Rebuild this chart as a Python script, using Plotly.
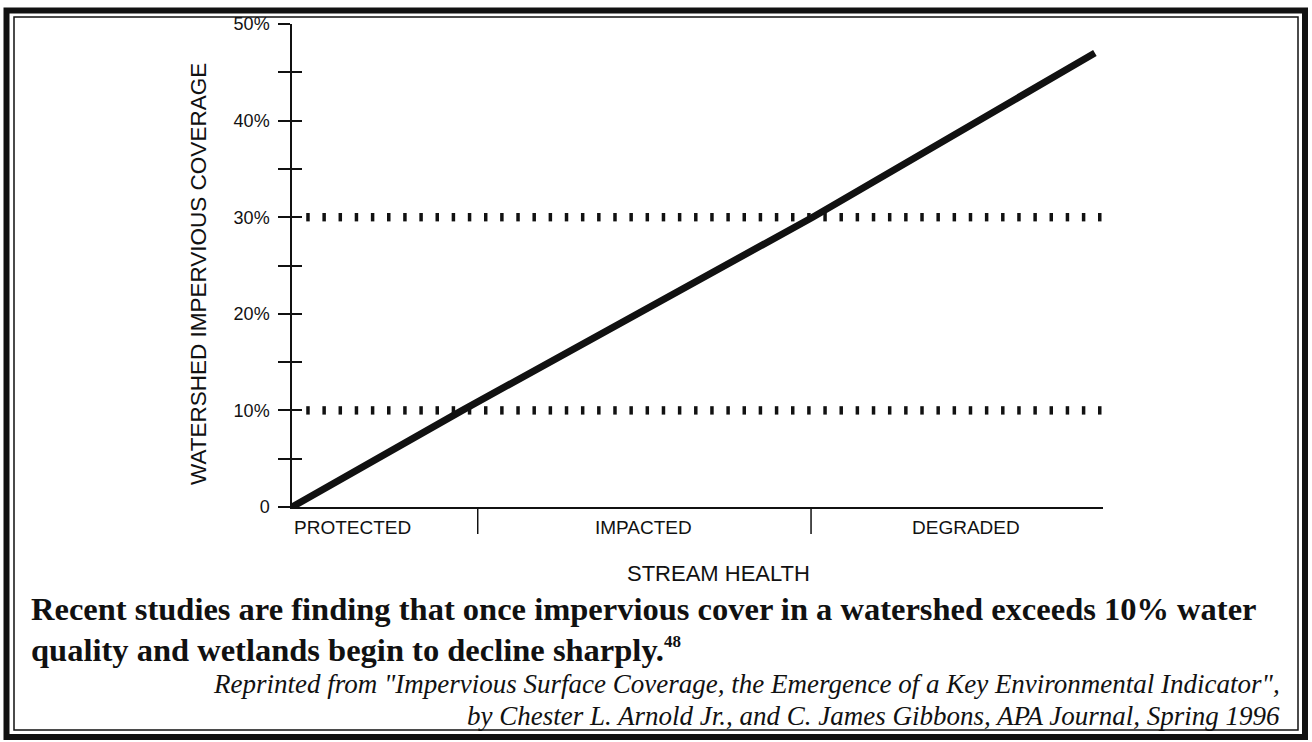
import numpy as np
import plotly.graph_objects as go

# ---------------- data ----------------
stream_health_x = [0, 21.0, 64.2, 99.0]          # position along the stream-health scale
impervious_pct = [0, 10, 30, 47]                 # watershed impervious coverage (%)
thresholds = [10, 30]                            # dotted threshold levels (%)
categories = ["PROTECTED", "IMPACTED", "DEGRADED"]
category_bounds = [22.9, 64.0]                   # divider positions between categories
y_tick_vals = [0, 10, 20, 30, 40, 50]
y_tick_text = ["0", "10%", "20%", "30%", "40%", "50%"]
y_all_ticks = [0, 5, 10, 15, 20, 25, 30, 35, 40, 45, 50]

# ---------------- layout helpers ----------------
W, H = 1312, 742
L, R, T, B = 292, 209, 24, 235
PW, PH = W - L - R, H - T - B


def px(xp):
    return (xp - L) / PW


def py(yp):
    return (H - B - yp) / PH


SANS = "Liberation Sans, Arial, sans-serif"
SERIF = "Liberation Serif, Times New Roman, serif"
INK = "#111111"

fig = go.Figure()

# main relationship line
fig.add_trace(go.Scatter(
    x=stream_health_x, y=impervious_pct, mode="lines",
    line=dict(color=INK, width=7), hoverinfo="skip", showlegend=False,
))

# dotted threshold rows (drawn as short vertical ticks)
dot_x = np.linspace(1.97, 99.6, 50)
for lvl in thresholds:
    fig.add_trace(go.Scatter(
        x=dot_x, y=[lvl] * len(dot_x), mode="markers", yaxis="y2",
        marker=dict(symbol="line-ns", size=6, line=dict(color=INK, width=3.5)),
        hoverinfo="skip", showlegend=False,
    ))

fig.update_layout(
    width=W, height=H,
    margin=dict(l=L, r=R, t=T, b=B, pad=0),
    paper_bgcolor="white", plot_bgcolor="white",
    xaxis=dict(range=[0, 100], showgrid=False, zeroline=False, showticklabels=False,
               ticks="", showline=True, linecolor=INK, linewidth=2, fixedrange=True),
    yaxis=dict(range=[0, 50], showgrid=False, zeroline=False, tickmode="array",
               tickvals=y_tick_vals, ticktext=y_tick_text, ticks="outside", ticklen=12,
               tickwidth=1.5, tickcolor=INK, showline=True, linecolor=INK, linewidth=1.5,
               tickfont=dict(family=SANS, size=18, color=INK), ticklabelstandoff=5,
               minor=dict(tickmode="array", tickvals=y_all_ticks, ticks="outside",
                          ticklen=12, tickwidth=1.5, tickcolor=INK, showgrid=False)),
    yaxis2=dict(range=[0, 50], overlaying="y", side="left", anchor="x", showgrid=False,
                zeroline=False, tickmode="array", tickvals=y_all_ticks, ticks="inside",
                ticklen=10, tickwidth=1.5, tickcolor=INK, showticklabels=False,
                showline=False),
    showlegend=False,
)

shapes = []
# category dividers below the baseline
for b in category_bounds:
    shapes.append(dict(type="line", xref="x", yref="paper", x0=b, x1=b,
                       y0=0, y1=py(534), line=dict(color=INK, width=1.5)))
# double frame
shapes.append(dict(type="rect", xref="paper", yref="paper",
                   x0=px(6.5), x1=px(1305), y0=py(10.5), y1=py(737),
                   line=dict(color=INK, width=6)))
shapes.append(dict(type="rect", xref="paper", yref="paper",
                   x0=px(14), x1=px(1298), y0=py(17), y1=py(730),
                   line=dict(color=INK, width=1.5)))
fig.update_layout(shapes=shapes)

annotations = []
cat_label_x = [7.4, 43.3, 83.1]
for name, cx in zip(categories, cat_label_x):
    annotations.append(dict(text=name, x=cx, y=py(527), xref="x", yref="paper",
                            showarrow=False, xanchor="center", yanchor="middle",
                            font=dict(family=SANS, size=19, color=INK)))
annotations.append(dict(text="STREAM HEALTH", x=px(718), y=py(573), xref="paper",
                        yref="paper", showarrow=False, xanchor="center", yanchor="middle",
                        font=dict(family=SANS, size=22, color=INK)))
annotations.append(dict(text="WATERSHED IMPERVIOUS COVERAGE", x=px(198), y=py(274),
                        xref="paper", yref="paper", showarrow=False, textangle=-90,
                        xanchor="center", yanchor="middle",
                        font=dict(family=SANS, size=22.5, color=INK)))
annotations.append(dict(
    text="<b>Recent studies are finding that once impervious cover in a watershed exceeds 10% water</b>",
    x=px(29), y=py(609), xref="paper", yref="paper", showarrow=False,
    xanchor="left", yanchor="middle", font=dict(family=SERIF, size=32.5, color=INK)))
annotations.append(dict(
    text="<b>quality and wetlands begin to decline sharply.<sup><span style='font-size:17px'>48</span></sup></b>",
    x=px(29), y=py(650), xref="paper", yref="paper", showarrow=False,
    xanchor="left", yanchor="middle", font=dict(family=SERIF, size=32.5, color=INK)))
annotations.append(dict(
    text="<i>Reprinted from \"Impervious Surface Coverage, the Emergence of a Key Environmental Indicator\",</i>",
    x=px(1282), y=py(684), xref="paper", yref="paper", showarrow=False,
    xanchor="right", yanchor="middle", font=dict(family=SERIF, size=27, color=INK)))
annotations.append(dict(
    text="<i>by Chester L. Arnold Jr., and C. James Gibbons, APA Journal, Spring 1996</i>",
    x=px(1282), y=py(716), xref="paper", yref="paper", showarrow=False,
    xanchor="right", yanchor="middle", font=dict(family=SERIF, size=27, color=INK)))
fig.update_layout(annotations=annotations)

fig.write_html(
    "out.html",
    config={"displayModeBar": False},
    post_script="document.body.style.margin='0';document.body.style.padding='0';document.body.style.overflow='hidden';",
)
